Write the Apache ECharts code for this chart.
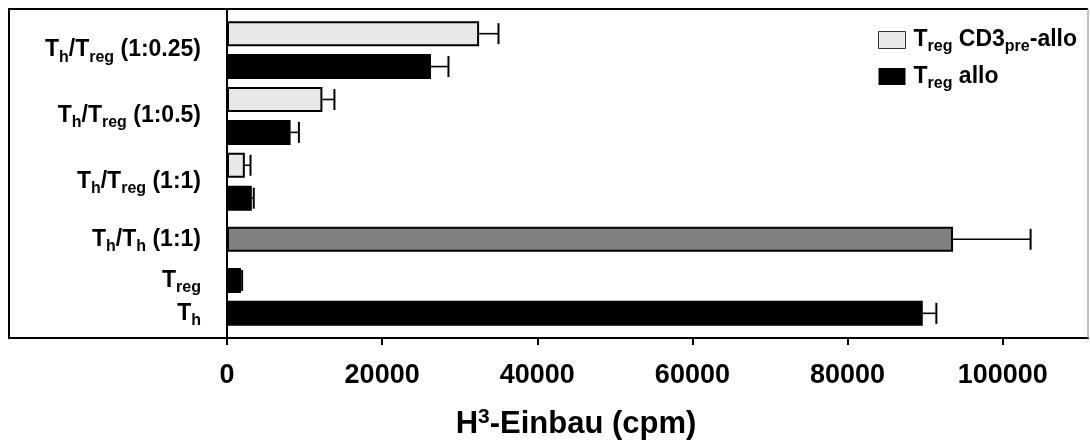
<!DOCTYPE html>
<html>
<head>
<meta charset="utf-8">
<script src="https://cdn.jsdelivr.net/npm/echarts@6/dist/echarts.min.js"></script>
<style>
  html, body { margin: 0; padding: 0; background: #fff; }
  #chart { width: 1090px; height: 445px; }
</style>
</head>
<body>
<div id="chart"></div>
<script>
// ---------------- data ----------------
const groupNames = [
  '{m|T}{s|h}{m|/T}{s|reg}{m| (1:0.25)}',
  '{m|T}{s|h}{m|/T}{s|reg}{m| (1:0.5)}',
  '{m|T}{s|h}{m|/T}{s|reg}{m| (1:1)}'
];
const thThName = '{m|T}{s|h}{m|/T}{s|h}{m| (1:1)}';
const controlNames = ['{m|T}{s|reg}', '{m|T}{s|h}'];

const cd3preValues = [32500, 12300, 2300];
const cd3preErrors = [2500, 1550, 730];
const alloValues = [26300, 8200, 3200];
const alloErrors = [2250, 1070, 250];
const thThValues = [93600];
const thThErrors = [10000];
const controlValues = [1800, 89700];
const controlErrors = [150, 1750];

const xTicks = [0, 20000, 40000, 60000, 80000, 100000];
const xMax = 111000;
const legendNames = ['Treg CD3pre-allo', 'Treg allo'];
const legendLabels = {
  'Treg CD3pre-allo': '{m|T}{s|reg}{m| CD3}{s|pre}{m|-allo}',
  'Treg allo': '{m|T}{s|reg}{m| allo}'
};
const xTitle = '{m|H}{sup|3}{m|-Einbau (cpm)}';

// ---------------- layout (row slots) ----------------
const SLOTS = 20;
const cd3Slots = [1, 5, 9];
const alloSlots = [3, 7, 11];
const groupLabelSlots = [2, 6, 10];
const controlSlots = [16, 18];
const SLOTS2 = 5;
const thThSlot = 3;

const cats1 = Array.from({length: SLOTS}, (_, i) => 's' + i);
const cats2 = Array.from({length: SLOTS2}, (_, i) => 't' + i);
const labelMap1 = {};
groupLabelSlots.forEach((s, i) => labelMap1['s' + s] = groupNames[i]);
controlSlots.forEach((s, i) => labelMap1['s' + s] = controlNames[i]);
const labelMap2 = {};
labelMap2['t' + thThSlot] = thThName;

const FONT = 'Liberation Sans, Arial, Helvetica, sans-serif';
const richY = {
  m: {fontSize: 23, fontWeight: 'bold', fontFamily: FONT, color: '#000', lineHeight: 30},
  s: {fontSize: 16, fontWeight: 'bold', fontFamily: FONT, color: '#000', lineHeight: 14, verticalAlign: 'bottom'}
};

const barBorder = {borderColor: '#000', borderWidth: 2};

function errItem(params, api) {
  const v = api.value(0), e = api.value(1), c = api.value(2);
  const p0 = api.coord([v, c]);
  const p1 = api.coord([v + e, c]);
  const h = 10.5;
  return {
    type: 'group',
    children: [
      {type: 'line', shape: {x1: p0[0], y1: p0[1], x2: p1[0], y2: p1[1]}, style: {stroke: '#000', lineWidth: 1.6}},
      {type: 'line', shape: {x1: p1[0], y1: p1[1] - h, x2: p1[0], y2: p1[1] + h}, style: {stroke: '#000', lineWidth: 2}}
    ]
  };
}

const chart = echarts.init(document.getElementById('chart'), null, {renderer: 'canvas'});
const option = {
  animation: false,
  backgroundColor: '#fff',
  grid: {left: 227, right: 2, top: 9, bottom: 107},
  legend: {
    data: [
      {name: legendNames[0], itemStyle: {borderWidth: 1, borderColor: '#333'}},
      {name: legendNames[1], itemStyle: {borderWidth: 0}}
    ],
    orient: 'vertical',
    left: 878, top: 28.5, padding: 0,
    itemWidth: 27, itemHeight: 17, itemGap: 10,
    icon: 'rect',
    formatter: n => legendLabels[n],
    textStyle: {padding: [0, 0, 0, 3], rich: richY}
  },
  xAxis: {
    type: 'value', min: 0, max: xMax,
    splitLine: {show: false},
    axisLine: {show: true, onZero: false, lineStyle: {color: '#000', width: 2}},
    axisTick: {show: true, length: 7, customValues: xTicks, lineStyle: {color: '#000', width: 2}},
    axisLabel: {customValues: xTicks, margin: 24, fontSize: 27, fontWeight: 'bold', fontFamily: FONT, color: '#000',
      formatter: v => String(v)}
  },
  yAxis: [
    {
      type: 'category', data: cats1, inverse: true, position: 'left',
      axisLine: {show: true, lineStyle: {color: '#000', width: 2}},
      axisTick: {show: false},
      axisLabel: {interval: 0, margin: 26, formatter: v => labelMap1[v] || '', rich: richY}
    },
    {
      type: 'category', data: cats2, inverse: true, position: 'left',
      axisLine: {show: false}, axisTick: {show: false},
      axisLabel: {interval: 0, margin: 26, formatter: v => labelMap2[v] || '', rich: richY}
    }
  ],
  series: [
    {
      name: legendNames[0], type: 'bar', yAxisIndex: 0, barWidth: 25, barGap: '-100%',
      itemStyle: Object.assign({color: '#e8e8e8'}, barBorder),
      encode: {x: 0, y: 1},
      data: cd3preValues.map((v, i) => [v, cd3Slots[i]])
    },
    {
      name: legendNames[1], type: 'bar', yAxisIndex: 0, barWidth: 25, barGap: '-100%',
      itemStyle: Object.assign({color: '#000'}, barBorder),
      encode: {x: 0, y: 1},
      data: alloValues.map((v, i) => [v, alloSlots[i]])
    },
    {
      name: 'Kontrollen', type: 'bar', yAxisIndex: 0, barWidth: 25, barGap: '-100%',
      itemStyle: Object.assign({color: '#000'}, barBorder),
      encode: {x: 0, y: 1},
      data: controlValues.map((v, i) => [v, controlSlots[i]])
    },
    {
      name: 'Th/Th', type: 'bar', yAxisIndex: 1, barWidth: 25,
      itemStyle: Object.assign({color: '#808080'}, barBorder),
      encode: {x: 0, y: 1},
      data: thThValues.map(v => [v, thThSlot])
    },
    {
      name: 'err1', type: 'custom', yAxisIndex: 0, renderItem: errItem, z: 5,
      encode: {x: 0, y: 2},
      data: [].concat(
        cd3preValues.map((v, i) => [v, cd3preErrors[i], cd3Slots[i]]),
        alloValues.map((v, i) => [v, alloErrors[i], alloSlots[i]]),
        controlValues.map((v, i) => [v, controlErrors[i], controlSlots[i]])
      )
    },
    {
      name: 'err2', type: 'custom', yAxisIndex: 1, renderItem: errItem, z: 5,
      encode: {x: 0, y: 2},
      data: thThValues.map((v, i) => [v, thThErrors[i], thThSlot])
    }
  ],
  graphic: [
    {type: 'line', shape: {x1: 9, y1: 9, x2: 1088, y2: 9}, style: {stroke: '#000', lineWidth: 2}, z: 10},
    {type: 'line', shape: {x1: 9, y1: 8, x2: 9, y2: 339}, style: {stroke: '#000', lineWidth: 2}, z: 10},
    {type: 'line', shape: {x1: 9, y1: 338, x2: 1088, y2: 338}, style: {stroke: '#000', lineWidth: 2}, z: 10},
    {type: 'line', shape: {x1: 1088, y1: 9, x2: 1088, y2: 338}, style: {stroke: '#999', lineWidth: 1.2}, z: 10},
    {
      type: 'text', x: 576, y: 407, z: 10,
      style: {
        text: xTitle, align: 'center', verticalAlign: 'top',
        rich: {
          m: {fontSize: 31, fontWeight: 'bold', fontFamily: FONT, color: '#000', lineHeight: 34},
          sup: {fontSize: 21, fontWeight: 'bold', fontFamily: FONT, color: '#000', lineHeight: 27, verticalAlign: 'top'}
        }
      }
    }
  ]
};
chart.setOption(option);
</script>
</body>
</html>
